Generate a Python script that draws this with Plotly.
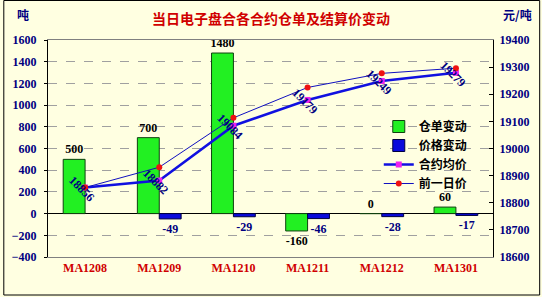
import plotly.graph_objects as go

categories = ["MA1208", "MA1209", "MA1210", "MA1211", "MA1212", "MA1301"]
warrant_change = [500, 700, 1480, -160, 0, 60]
price_change = [None, -49, -29, -46, -28, -17]
avg_price = [18856, 18882, 19084, 19179, 19249, 19279]
prev_price = [18856, 18931, 19113, 19225, 19277, 19296]

title_text = "当日电子盘合各合约仓单及结算价变动"
left_unit = "吨"
right_unit = "元/吨"

NAVY = "#000080"
FONT = "Liberation Serif, Noto Sans CJK SC"
CJK = "Noto Sans CJK SC"
BG = "#FFFFE1"

W, H = 542, 297
ML, MR, MT, MB = 45, 49, 40, 40
PW, PH = W - ML - MR, H - MT - MB

fig = go.Figure()

fig.add_trace(go.Bar(
    x=categories, y=warrant_change, name="仓单变动",
    marker=dict(color="#22F022", line=dict(color="#104010", width=1)),
    text=[str(v) for v in warrant_change], textposition="outside",
    textfont=dict(family=FONT, size=12, color="black", weight="bold"),
    constraintext="none", cliponaxis=False,
))
fig.add_trace(go.Bar(
    x=categories, y=price_change, name="价格变动",
    marker=dict(color="#0A0ADC", line=dict(color="#000040", width=1)),
    text=["" if v is None else str(v) for v in price_change], textposition="outside",
    textfont=dict(family=FONT, size=12, color=NAVY, weight="bold"),
    constraintext="none", cliponaxis=False,
))
fig.add_trace(go.Scatter(
    x=categories, y=avg_price, name="合约均价", yaxis="y2", mode="lines+markers",
    line=dict(color="#1010E0", width=2.5),
    marker=dict(color="#EE22EE", size=6, symbol="square"),
))
fig.add_trace(go.Scatter(
    x=categories, y=prev_price, name="前一日价", yaxis="y2", mode="lines+markers",
    line=dict(color="#1010C0", width=1),
    marker=dict(color="#EE1111", size=6, symbol="circle"),
))

for c, v in zip(categories, avg_price):
    fig.add_annotation(x=c, y=v, xref="x", yref="y2", text=str(v), textangle=45,
                       showarrow=False, xshift=-3, yshift=-1,
                       font=dict(family=FONT, size=12, color=NAVY, weight="bold"))

fig.add_annotation(x=-33 / PW, y=1 + 25 / PH, xref="paper", yref="paper", text=left_unit,
                   showarrow=False, xanchor="left", yanchor="middle",
                   font=dict(family=CJK, size=12, color=NAVY, weight="bold"))
fig.add_annotation(x=1 + 8 / PW, y=1 + 25 / PH, xref="paper", yref="paper", text=right_unit,
                   showarrow=False, xanchor="left", yanchor="middle",
                   font=dict(family=CJK, size=12, color=NAVY, weight="bold"))

fig.add_shape(type="rect", xref="paper", yref="paper",
              x0=-ML / PW + 0.5 / PW, x1=1 + (MR - 2) / PW,
              y0=-(MB - 2) / PH, y1=1 + (MT - 0.5) / PH,
              line=dict(color="black", width=1), layer="below")

fig.update_layout(
    width=W, height=H,
    margin=dict(l=ML, r=MR, t=MT, b=MB),
    paper_bgcolor=BG, plot_bgcolor=BG,
    title=dict(text=title_text, x=0.5, xanchor="center", y=1 - 19 / H, yanchor="middle",
               font=dict(family=CJK, size=14, color="#D00000", weight="bold")),
    barmode="group", bargap=0.41, bargroupgap=0,
    showlegend=True,
    legend=dict(x=(378 - ML) / PW, xanchor="left", y=(H - MB - 112) / PH, yanchor="top",
                bgcolor="rgba(0,0,0,0)", traceorder="normal",
                font=dict(family=CJK, size=12, color="black", weight="bold"),
                tracegroupgap=0, itemwidth=30),
    xaxis=dict(showline=True, linecolor="#808080", linewidth=1, mirror=True,
               ticks="", showgrid=False,
               tickfont=dict(family=FONT, size=12, color="#D00000", weight="bold")),
    yaxis=dict(range=[-400, 1600], dtick=200, showline=True, linecolor="black", linewidth=1,
               ticks="outside", ticklen=3, tickcolor="black", ticklabelstandoff=5,
               showgrid=True, gridcolor="#A0A0A0", griddash="dash", gridwidth=1,
               zeroline=True, zerolinecolor="black", zerolinewidth=1,
               tickfont=dict(family=FONT, size=12, color=NAVY, weight="bold")),
    yaxis2=dict(range=[18600, 19400], dtick=100, overlaying="y", side="right",
                showline=True, linecolor="black", linewidth=1,
                ticks="inside", ticklen=4, tickcolor="black", showgrid=False, zeroline=False,
                tickformat="d", ticklabelstandoff=3,
                tickfont=dict(family=FONT, size=12, color=NAVY, weight="bold")),
)

fig.write_html("out.html")
